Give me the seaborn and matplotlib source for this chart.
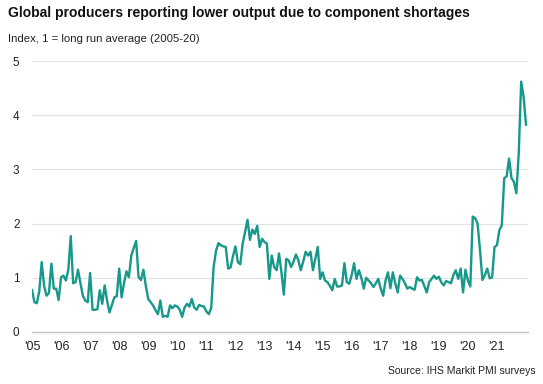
import matplotlib
matplotlib.use("Agg")
import matplotlib.pyplot as plt
import seaborn as sns
import pandas as pd

# Index, 1 = long run average (2005-20), monthly readings from Jan 2005
shortage_index = [
    0.78, 0.55, 0.53, 0.75, 1.29, 0.85, 0.67, 0.72, 1.26, 0.80, 0.80, 0.59,  # 2005
    1.01, 1.04, 0.95, 1.15, 1.77, 0.90, 0.92, 1.15, 0.90, 0.67, 0.58, 0.55,  # 2006
    1.09, 0.41, 0.41, 0.42, 0.77, 0.52, 0.86, 0.58, 0.36, 0.50, 0.64, 0.66,  # 2007
    1.17, 0.64, 0.90, 1.12, 1.01, 1.41, 1.55, 1.68, 1.01, 0.96, 1.15, 0.85,  # 2008
    0.61, 0.55, 0.49, 0.40, 0.33, 0.58, 0.28, 0.30, 0.28, 0.49, 0.44, 0.49,  # 2009
    0.47, 0.41, 0.28, 0.45, 0.52, 0.47, 0.61, 0.45, 0.41, 0.50, 0.48, 0.47,  # 2010
    0.38, 0.33, 0.44, 1.20, 1.50, 1.64, 1.60, 1.58, 1.57, 1.17, 1.19, 1.40,  # 2011
    1.58, 1.29, 1.25, 1.63, 1.85, 2.07, 1.70, 1.89, 1.81, 1.96, 1.57, 1.72,  # 2012
    1.66, 1.63, 0.98, 1.41, 1.20, 1.14, 1.45, 1.10, 0.69, 1.35, 1.32, 1.20,  # 2013
    1.30, 1.43, 1.32, 1.14, 1.30, 1.48, 1.41, 1.48, 1.14, 1.35, 1.57, 0.98,  # 2014
    1.10, 0.95, 0.92, 0.85, 0.77, 0.98, 0.84, 0.84, 0.86, 1.27, 0.92, 0.89,  # 2015
    1.05, 1.27, 0.98, 1.14, 1.00, 0.80, 1.00, 0.95, 0.90, 0.83, 0.90, 0.98,  # 2016
    0.80, 0.67, 0.95, 1.10, 0.81, 1.10, 0.90, 0.73, 1.04, 0.98, 0.90, 0.80,  # 2017
    0.83, 0.80, 0.78, 1.01, 0.95, 0.96, 0.85, 0.73, 0.92, 0.98, 1.04, 0.98,  # 2018
    1.02, 0.92, 0.86, 0.94, 0.92, 0.90, 1.05, 1.14, 0.98, 1.17, 0.73, 1.15,  # 2019
    0.95, 0.84, 2.13, 2.10, 2.00, 1.51, 0.96, 1.05, 1.17, 0.99, 1.01, 1.57,  # 2020
    1.60, 1.88, 1.97, 2.84, 2.87, 3.20, 2.84, 2.77, 2.56, 3.30, 4.62, 4.34,  # 2021
    3.82,
]
year_labels = ["'05", "'06", "'07", "'08", "'09", "'10", "'11", "'12", "'13",
               "'14", "'15", "'16", "'17", "'18", "'19", "'20", "'21"]

df = pd.DataFrame({"month": range(len(shortage_index)), "index": shortage_index})
df["year"] = 2005 + df["month"] / 12

sns.set_theme(style="whitegrid")
plt.rcParams["font.family"] = ["Liberation Sans", "DejaVu Sans"]

fig = plt.figure(figsize=(5.43, 3.84), dpi=100)
ax = fig.add_axes([32 / 543, 1 - 332 / 384, 496 / 543, 271 / 384])

sns.lineplot(data=df, x="year", y="index", color="#17988a", linewidth=1.7, ax=ax)

ax.set_xlim(2005, 2005 + 496 / 29.06)
ax.set_ylim(0, 5)
ax.set_yticks(range(6))
ax.set_xticks(range(2005, 2022))
ax.set_xticklabels(year_labels)
ax.set_xticks(range(2005, 2022, 2), minor=True)
ax.set_xlabel("")
ax.set_ylabel("")

ax.grid(axis="x", visible=False)
ax.grid(axis="y", color="#e3e3e3", linewidth=0.9)
ax.set_facecolor("white")
for side in ["top", "right", "left"]:
    ax.spines[side].set_visible(False)
ax.spines["bottom"].set_color("#c4c4c4")
ax.spines["bottom"].set_linewidth(1.0)

ax.tick_params(axis="x", which="major", length=0, pad=6.5, labelsize=9, labelcolor="#222222")
ax.tick_params(axis="x", which="minor", bottom=True, length=4, width=0.8, color="#c4c4c4")
ax.tick_params(axis="y", length=0, pad=9, labelsize=8.5, labelcolor="#222222")

fig.text(8 / 543, 1 - 17 / 384, "Global producers reporting lower output due to component shortages",
         fontsize=10, fontweight="bold", color="#111111", va="baseline")
fig.text(8 / 543, 1 - 42 / 384, "Index, 1 = long run average (2005-20)",
         fontsize=8.2, color="#222222", va="baseline")
fig.text(536 / 543, 1 - 374 / 384, "Source: IHS Markit PMI surveys",
         fontsize=7.5, color="#222222", ha="right", va="baseline")

fig.savefig("out.png", dpi=100)
